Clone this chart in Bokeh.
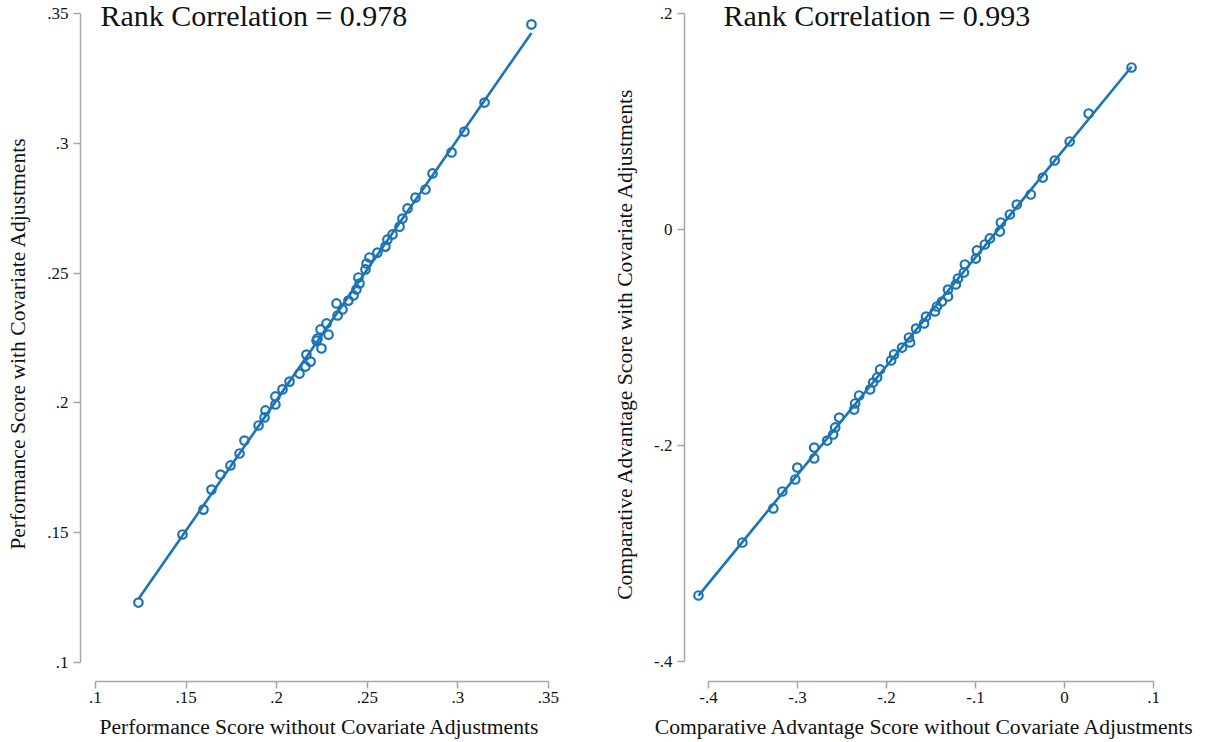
import numpy as np
from bokeh.plotting import figure
from bokeh.layouts import row
from bokeh.models import Range1d, FixedTicker, Label
from bokeh.embed import file_html
from bokeh.resources import INLINE

# ---------------- data ----------------
perf_without = [0.1237, 0.1480, 0.1596, 0.1640, 0.1690, 0.1745, 0.1795, 0.1822, 0.1900, 0.1933,
                0.1938, 0.1993, 0.1993, 0.2032, 0.2071, 0.2126, 0.2159, 0.2187, 0.2164, 0.2220,
                0.2225, 0.2247, 0.2242, 0.2286, 0.2275, 0.2330, 0.2336, 0.2363, 0.2396, 0.2424,
                0.2440, 0.2457, 0.2451, 0.2490, 0.2496, 0.2512, 0.2556, 0.2600, 0.2611, 0.2639,
                0.2678, 0.2694, 0.2722, 0.2766, 0.2821, 0.2860, 0.2965, 0.3036, 0.3147, 0.3406]
perf_with = [0.1231, 0.1493, 0.1589, 0.1666, 0.1724, 0.1759, 0.1805, 0.1855, 0.1913, 0.1944,
             0.1971, 0.1994, 0.2025, 0.2052, 0.2082, 0.2113, 0.2140, 0.2159, 0.2186, 0.2240,
             0.2248, 0.2210, 0.2283, 0.2263, 0.2306, 0.2383, 0.2337, 0.2360, 0.2394, 0.2414,
             0.2437, 0.2460, 0.2483, 0.2514, 0.2537, 0.2560, 0.2579, 0.2602, 0.2629, 0.2649,
             0.2679, 0.2710, 0.2749, 0.2791, 0.2822, 0.2884, 0.2965, 0.3045, 0.3157, 0.3458]

ca_without = [-0.4112, -0.3619, -0.3271, -0.3170, -0.3025, -0.3002, -0.2812, -0.2812, -0.2666, -0.2599,
              -0.2576, -0.2531, -0.2363, -0.2352, -0.2307, -0.2184, -0.2150, -0.2105, -0.2072, -0.1948,
              -0.1915, -0.1825, -0.1735, -0.1747, -0.1668, -0.1578, -0.1556, -0.1455, -0.1433, -0.1377,
              -0.1309, -0.1309, -0.1220, -0.1197, -0.1130, -0.1119, -0.0996, -0.0984, -0.0895, -0.0839,
              -0.0726, -0.0715, -0.0614, -0.0536, -0.0379, -0.0244, -0.0110, 0.0058, 0.0271, 0.0753]
ca_with = [-0.3389, -0.2898, -0.2583, -0.2426, -0.2315, -0.2204, -0.2120, -0.2019, -0.1954, -0.1898,
           -0.1833, -0.1741, -0.1667, -0.1611, -0.1537, -0.1481, -0.1417, -0.1370, -0.1296, -0.1213,
           -0.1157, -0.1093, -0.1046, -0.1000, -0.0917, -0.0870, -0.0806, -0.0759, -0.0713, -0.0667,
           -0.0620, -0.0556, -0.0509, -0.0454, -0.0398, -0.0324, -0.0269, -0.0194, -0.0139, -0.0083,
           -0.0019, 0.0065, 0.0139, 0.0231, 0.0324, 0.0481, 0.0639, 0.0815, 0.1074, 0.1500]

perf_ticks = [0.1, 0.15, 0.2, 0.25, 0.3, 0.35]
perf_tick_labels = [".1", ".15", ".2", ".25", ".3", ".35"]
ca_x_ticks = [-0.4, -0.3, -0.2, -0.1, 0.0, 0.1]
ca_x_tick_labels = ["-.4", "-.3", "-.2", "-.1", "0", ".1"]
ca_y_ticks = [-0.4, -0.2, 0.0, 0.2]
ca_y_tick_labels = ["-.4", "-.2", "0", ".2"]

titles = ["Rank Correlation = 0.978", "Rank Correlation = 0.993"]
x_labels = ["Performance Score without Covariate Adjustments",
            "Comparative Advantage Score without Covariate Adjustments"]
y_labels = ["Performance Score with Covariate Adjustments",
            "Comparative Advantage Score with Covariate Adjustments"]

# ---------------- style ----------------
BLUE = "#1a74b5"
AXIS_GRAY = "#a6a6a6"
FONT = "Liberation Serif"
HEIGHT = 742


def style_axis(ax, ticks, labels, axis_label, label_standoff, major_standoff):
    ax.ticker = FixedTicker(ticks=ticks)
    ax.major_label_overrides = {t: l for t, l in zip(ticks, labels)}
    ax.bounds = (min(ticks), max(ticks))
    ax.axis_line_color = AXIS_GRAY
    ax.axis_line_width = 1.5
    ax.major_tick_line_color = AXIS_GRAY
    ax.major_tick_line_width = 1.5
    ax.major_tick_out = 7
    ax.major_tick_in = 0
    ax.minor_tick_line_color = None
    ax.major_label_text_font = FONT
    ax.major_label_text_font_size = "17px"
    ax.major_label_text_color = "#111111"
    ax.major_label_standoff = major_standoff
    ax.axis_label = axis_label
    ax.axis_label_text_font = FONT
    ax.axis_label_text_font_size = "21.6px"
    ax.axis_label_text_font_style = "normal"
    ax.axis_label_text_color = "#111111"
    ax.axis_label_standoff = label_standoff


def make_panel(xs, ys, width, x_range, y_range, mb_left, mb_right,
               xticks, xlabels, yticks, ylabels, xlab, ylab, title, tx, ty, ylab_standoff):
    p = figure(width=width, height=HEIGHT, output_backend="svg", toolbar_location=None,
               x_range=Range1d(*x_range), y_range=Range1d(*y_range),
               min_border_left=mb_left, min_border_right=mb_right,
               min_border_top=5, min_border_bottom=61)
    p.outline_line_color = None
    p.xgrid.visible = False
    p.ygrid.visible = False
    p.background_fill_color = "white"
    p.border_fill_color = "white"
    style_axis(p.xaxis[0], xticks, xlabels, xlab, 9, 3)
    style_axis(p.yaxis[0], yticks, ylabels, ylab, ylab_standoff, 5)
    p.yaxis[0].major_label_orientation = "horizontal"

    # linear fit computed from the data
    xa = np.array(xs)
    ya = np.array(ys)
    slope, intercept = np.polyfit(xa, ya, 1)
    fx = np.array([xa.min(), xa.max()])
    p.scatter(xs, ys, marker="circle", size=8.5, fill_color=None,
              line_color=BLUE, line_width=2.2)
    p.line(fx, slope * fx + intercept, line_color=BLUE, line_width=2.6)

    p.add_layout(Label(x=tx, y=ty, text=title, text_font=FONT, text_font_size="30px",
                       text_color="#111111", text_baseline="middle", text_align="left"))
    return p


p1 = make_panel(perf_without, perf_with, 610,
                (0.091722, 0.355520), (0.092681, 0.353082), 80, 52,
                perf_ticks, perf_tick_labels, perf_ticks, perf_tick_labels,
                x_labels[0], y_labels[0], titles[0], 0.10276, 0.34923, 14)

p2 = make_panel(ca_without, ca_with, 595,
                (-0.426906, 0.113450), (-0.418519, 0.207407), 73, 40,
                ca_x_ticks, ca_x_tick_labels, ca_y_ticks, ca_y_tick_labels,
                x_labels[1], y_labels[1], titles[1], -0.3832, 0.19815, 14)

layout = row(p1, p2)
open("out.html", "w").write(file_html(layout, INLINE))
